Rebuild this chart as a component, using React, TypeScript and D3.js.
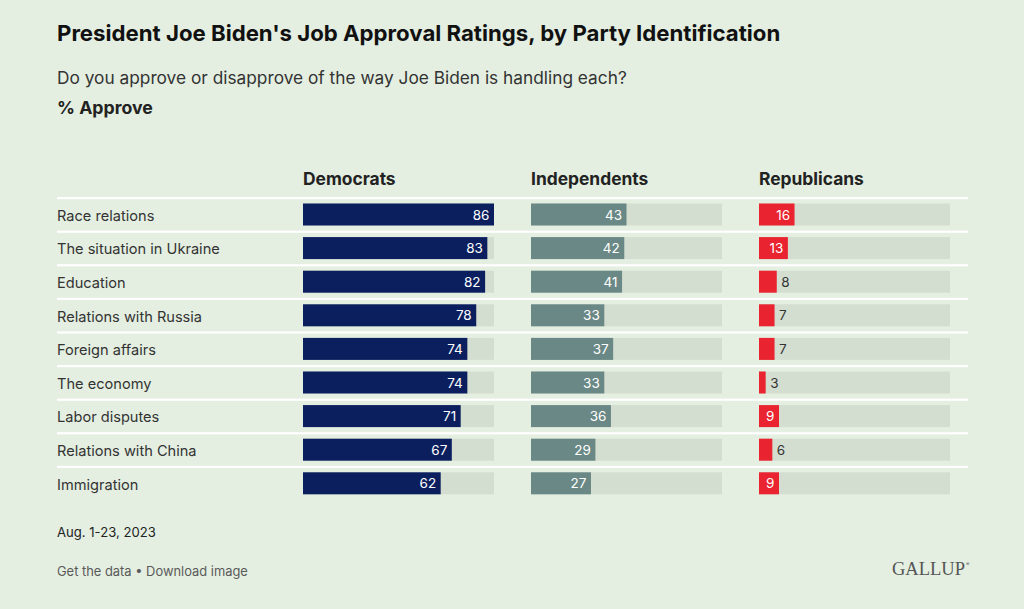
import React from "react";
import * as d3 from "d3";

const categories = [
  "Race relations",
  "The situation in Ukraine",
  "Education",
  "Relations with Russia",
  "Foreign affairs",
  "The economy",
  "Labor disputes",
  "Relations with China",
  "Immigration",
];
const parties = ["Democrats", "Independents", "Republicans"];
const democrats = [86, 83, 82, 78, 74, 74, 71, 67, 62];
const independents = [43, 42, 41, 33, 37, 33, 36, 29, 27];
const republicans = [16, 13, 8, 7, 7, 3, 9, 6, 9];
const partyValues = [democrats, independents, republicans];
const partyColors = ["#0b1f5f", "#6a8885", "#e9232f"];

const W = 1024;
const H = 609;
const FONT = "Inter, 'Noto Sans', sans-serif";
const BG = "#e4efe1";
const TRACK = "#d3ded1";

export default function App() {
  const maxV = d3.max(partyValues.flat()) as number;
  const x = d3.scaleLinear().domain([0, maxV]).range([0, 191]);
  const y = d3
    .scaleBand<string>()
    .domain(categories)
    .range([198, 198 + categories.length * 33.6])
    .paddingInner(0)
    .paddingOuter(0);
  const panelX = d3
    .scalePoint<string>()
    .domain(parties)
    .range([303, 759]);
  const barPad = 5.5;
  const barH = 22;

  return (
    <svg
      width={W}
      height={H}
      style={{ position: "absolute", left: 0, top: 0, display: "block" }}
      fontFamily={FONT}
    >
      <rect width={W} height={H} fill={BG} />
      <text x={57} y={40.5} fontSize={22.2} fontWeight={700} fill="#111">
        President Joe Biden's Job Approval Ratings, by Party Identification
      </text>
      <text x={57} y={83.5} fontSize={17.3} fill="#333">
        Do you approve or disapprove of the way Joe Biden is handling each?
      </text>
      <text x={57} y={113.5} fontSize={17.7} fontWeight={700} fill="#222">
        % Approve
      </text>

      {parties.map((p) => (
        <text key={p} x={panelX(p)} y={184.5} fontSize={17.4} fontWeight={700} fill="#222">
          {p}
        </text>
      ))}

      {categories.map((c) => (
        <rect key={"l" + c} x={57} y={(y(c) as number) - 1} width={911} height={2.2} fill="#ffffff" />
      ))}

      {categories.map((c, i) => {
        const by = y(c) as number;
        return (
          <g key={c}>
            <text x={57} y={by + barPad + barH / 2 + 6.2} fontSize={14.6} fill="#333">
              {c}
            </text>
            {parties.map((p, j) => {
              const px = panelX(p) as number;
              const v = partyValues[j][i];
              const w = x(v);
              const inside = v >= 9;
              return (
                <g key={p}>
                  <rect x={px} y={by + barPad} width={x(maxV)} height={barH} fill={TRACK} />
                  <rect x={px} y={by + barPad} width={w} height={barH} fill={partyColors[j]} />
                  <text
                    x={inside ? px + w - 4.5 : px + w + 4.5}
                    y={by + barPad + barH / 2 + 5}
                    fontSize={13.5}
                    textAnchor={inside ? "end" : "start"}
                    fill={inside ? "#ffffff" : "#333"}
                  >
                    {v}
                  </text>
                </g>
              );
            })}
          </g>
        );
      })}

      <text x={57} y={536.5} fontSize={13.1} fill="#222">
        Aug. 1-23, 2023
      </text>
      <text x={57} y={576} fontSize={12.9} fill="#5a5a5a">
        Get the data • Download image
      </text>
      <text
        x={892}
        y={575}
        fontSize={18.5}
        fontFamily="'Liberation Serif', 'DejaVu Serif', serif"
        fill="#555"
      >
        GALLUP
      </text>
      <text x={966} y={566} fontSize={5} fill="#555" fontFamily={FONT}>
        ®
      </text>
    </svg>
  );
}
